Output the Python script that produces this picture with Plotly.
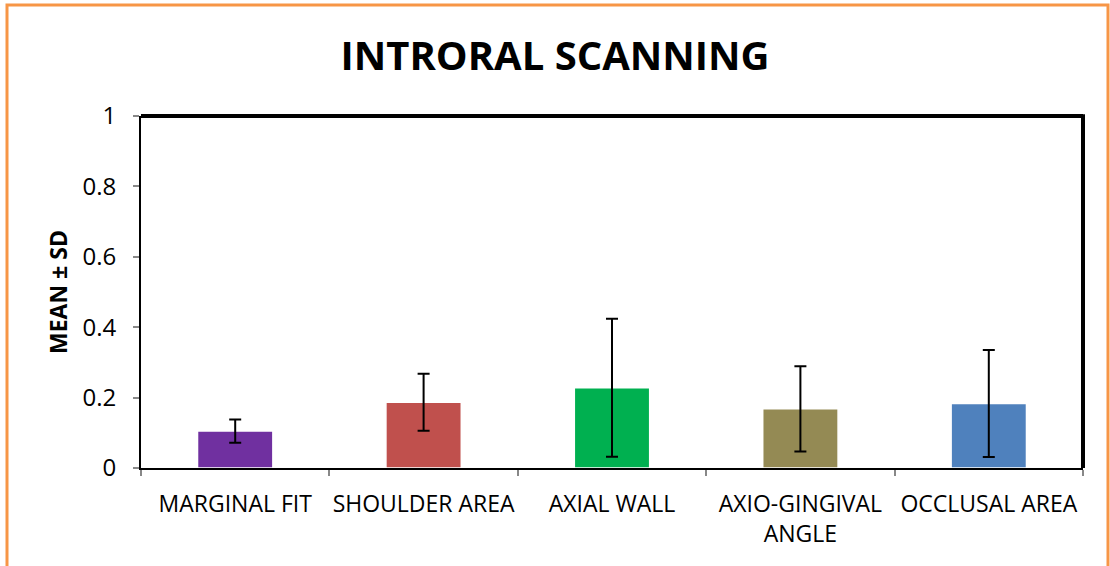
import plotly.graph_objects as go

categories = ["MARGINAL FIT", "SHOULDER AREA", "AXIAL WALL", "AXIO-GINGIVAL<br>ANGLE", "OCCLUSAL AREA"]
means = [0.105, 0.187, 0.228, 0.168, 0.183]
sds = [0.033, 0.081, 0.196, 0.121, 0.152]
colors = ["#7030A0", "#C0504D", "#00B050", "#948A54", "#4F81BD"]
y_ticks = [0, 0.2, 0.4, 0.6, 0.8, 1]
y_tick_labels = ["0", "0.2", "0.4", "0.6", "0.8", "1"]

W, H = 1110, 566
L, R, T, B = 141, 27, 116, 98
pw, ph = W - L - R, H - T - B

FONT = "Open Sans, Lato, sans-serif"

fig = go.Figure()
fig.add_trace(go.Bar(
    x=categories, y=means,
    marker=dict(color=colors, line=dict(color="white", width=1.5)),
    width=0.4,
    error_y=dict(type="data", array=sds, visible=True, color="black", thickness=2, width=6),
))

def px_x(x):
    return (x - L) / pw

def px_y(y):
    return (H - B - y) / ph

fig.update_layout(
    width=W, height=H,
    margin=dict(l=L, r=R, t=T, b=B, autoexpand=False),
    paper_bgcolor="white", plot_bgcolor="white",
    showlegend=False,
    font=dict(family=FONT, color="black"),
    title=dict(text="<b>INTRORAL SCANNING</b>", x=0.5, xanchor="center", y=1 - 56 / H, yanchor="middle",
               font=dict(size=40, color="black", family=FONT)),
    xaxis=dict(
        showline=True, linecolor="black", linewidth=2, automargin=False, tickangle=0,
        ticks="outside", tickson="boundaries", tickcolor="#888888", ticklen=6, tickwidth=2,
        tickfont=dict(size=23, family=FONT), showgrid=False, ticklabelstandoff=14,
    ),
    yaxis=dict(
        range=[0, 1], tickvals=y_ticks, ticktext=y_tick_labels, automargin=False,
        showline=True, linecolor="black", linewidth=2,
        ticks="outside", tickcolor="#888888", ticklen=6, tickwidth=2,
        tickfont=dict(size=24, family=FONT), showgrid=False, zeroline=False,
        ticklabelstandoff=12,
    ),
    annotations=[
        dict(text="<b>MEAN ± SD</b>", xref="paper", yref="paper", x=px_x(58), y=0.5,
             xanchor="center", yanchor="middle", textangle=-90, showarrow=False,
             font=dict(size=23, family=FONT, color="black")),
    ],
    shapes=[
        dict(type="line", xref="paper", yref="paper", x0=0, x1=1, y0=1, y1=1,
             line=dict(color="black", width=4)),
        dict(type="line", xref="paper", yref="paper", x0=1, x1=1, y0=0, y1=1.005,
             line=dict(color="black", width=4)),
        dict(type="rect", xref="paper", yref="paper",
             x0=px_x(7), x1=px_x(1108), y0=px_y(580), y1=px_y(5),
             line=dict(color="#F79646", width=3), fillcolor="rgba(0,0,0,0)", layer="below"),
    ],
)

fig.write_html("out.html", config={"displayModeBar": False},
               post_script="document.body.style.margin='0px';")
